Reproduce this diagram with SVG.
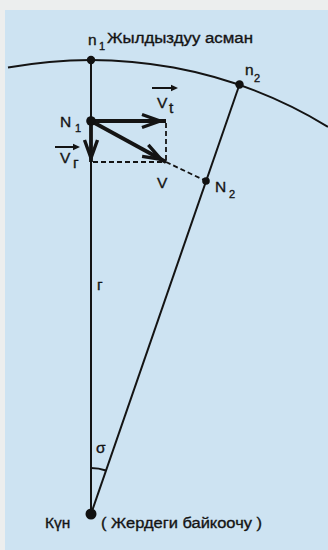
<svg xmlns="http://www.w3.org/2000/svg" xmlns:xlink="http://www.w3.org/1999/xlink" width="328" height="550" viewBox="0 0 328 550">
<style>
.t{font-family:"Liberation Sans",Arial,sans-serif;fill:#141414;stroke:#141414;stroke-width:0.35;font-size:15.5px}
.s{font-size:11px}
.ln{stroke:#141414;fill:none;stroke-width:2}
.vec{stroke:#141414;fill:none;stroke-width:3.8;stroke-linecap:butt}
.dash{stroke:#141414;fill:none;stroke-width:1.8;stroke-dasharray:5 3}
.dot{fill:#111}
</style>
<defs>
<path id="ah" d="M-18,-6.5 L0,0 L-18,6.5" fill="none" stroke="#141414" stroke-width="3.4" stroke-linejoin="miter"/>
<path id="sa" d="M-7,-3.2 L0,0 L-7,3.2 Z" fill="#141414"/>
</defs>
<rect x="0" y="0" width="328" height="550" fill="#eceeee"/>
<rect x="5" y="10" width="323" height="540" fill="#cde3f2"/>
<g id="connectors">
<path class="ln" d="M8,67.6 A454,454 0 0 1 328,126.8" stroke-width="2.6"/>
<line class="ln" x1="91" y1="60" x2="91" y2="514"/>
<line class="ln" x1="91" y1="514" x2="239.5" y2="84.5"/>
<path class="ln" d="M91,468 A46,46 0 0 1 106,470.5" stroke-width="1.8"/>
<line class="dash" x1="166" y1="123" x2="166" y2="162"/>
<line class="dash" x1="93" y1="162" x2="166" y2="162"/>
<line class="dash" x1="166" y1="162" x2="206" y2="181"/>
<line class="vec" x1="91" y1="121" x2="166" y2="121"/>
<use xlink:href="#ah" href="#ah" transform="translate(160,121)"/>
<line class="vec" x1="91" y1="121" x2="166" y2="162"/>
<use xlink:href="#ah" href="#ah" transform="translate(161,159.3) rotate(28.7)"/>
<line class="vec" x1="91" y1="121" x2="91" y2="162"/>
<use xlink:href="#ah" href="#ah" transform="translate(91,158) rotate(90)"/>
<line x1="152" y1="88" x2="174" y2="88" stroke="#141414" stroke-width="2"/>
<use xlink:href="#sa" href="#sa" transform="translate(178,88)"/>
<line x1="55" y1="147" x2="76" y2="147" stroke="#141414" stroke-width="2"/>
<use xlink:href="#sa" href="#sa" transform="translate(80,147)"/>
</g>
<g id="n1">
<circle class="dot" cx="91" cy="60" r="4.2"/>
<text class="t" x="88" y="45">n</text><text class="t s" x="99" y="50">1</text>
<text class="t" x="107" y="43" textLength="146" lengthAdjust="spacingAndGlyphs">Жылдыздуу асман</text>
</g>
<g id="n2">
<circle class="dot" cx="239.5" cy="84.5" r="4.2"/>
<text class="t" x="245" y="75">n</text><text class="t s" x="254" y="82" font-size="12">2</text>
</g>
<g id="N1">
<circle class="dot" cx="91" cy="121" r="4.8"/>
<text class="t" x="60" y="127" font-size="16">N</text><text class="t s" x="75" y="132" font-size="12">1</text>
</g>
<g id="N2">
<circle class="dot" cx="206" cy="181" r="3.8"/>
<text class="t" x="215" y="192" font-size="16">N</text><text class="t s" x="229" y="198" font-size="12">2</text>
</g>
<g id="vt">
<text class="t" x="157" y="108" font-size="16">V</text><text class="t" x="169" y="113" font-size="13">t</text>
</g>
<g id="vr">
<text class="t" x="60" y="163" font-size="16">V</text><text class="t" x="73" y="168" font-size="13">г</text>
</g>
<g id="v">
<text class="t" x="157" y="188" font-size="16">V</text>
</g>
<g id="r">
<text class="t" x="97" y="290" font-size="17">г</text>
</g>
<g id="sigma">
<text class="t" x="96" y="453" font-size="17">σ</text>
</g>
<g id="sun">
<circle class="dot" cx="91" cy="514" r="5.5"/>
<text class="t" x="45" y="528" font-size="16">Күн</text>
<text class="t" x="101" y="528" font-size="16" textLength="161" lengthAdjust="spacingAndGlyphs">( Жердеги байкоочу )</text>
</g>
</svg>
